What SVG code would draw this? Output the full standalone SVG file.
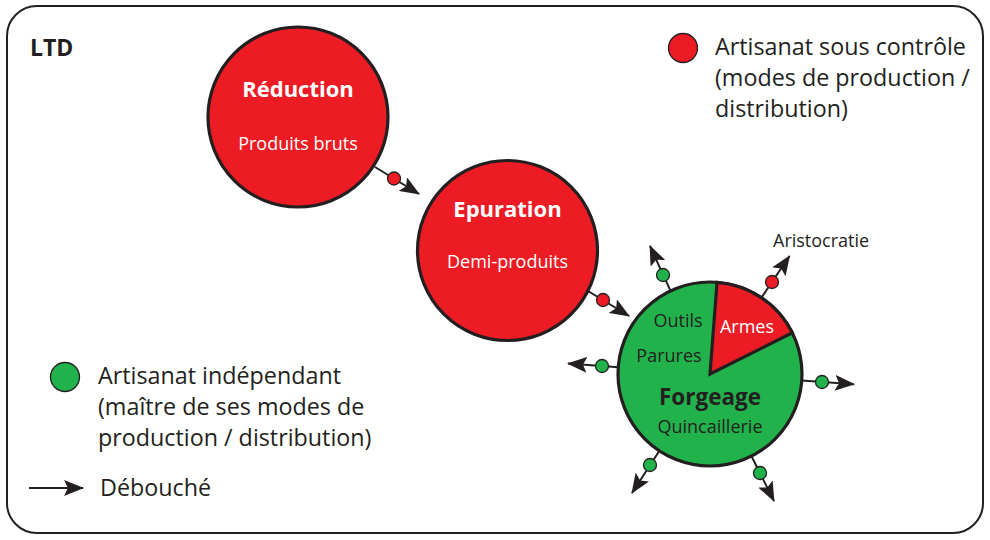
<svg xmlns="http://www.w3.org/2000/svg" width="990" height="540" viewBox="0 0 990 540">
<defs>
<style>
.t{font-family:"Open Sans","Noto Sans","Liberation Sans",sans-serif;fill:#231f20}
.w{fill:#fff}
.b{font-weight:bold}
.big{font-size:22px}
.sm{font-size:18px}
.leg{font-size:23.3px}
.red{fill:#ed1c24}
.grn{fill:#22b24c}
.node{stroke:#231f20;stroke-width:3.2}
.dot{stroke:#231f20;stroke-width:1.3}
.ln{stroke:#231f20;stroke-width:2;fill:none;marker-end:url(#ah)}
</style>
<marker id="ah" viewBox="0 0 20 16" refX="19" refY="8" markerWidth="20" markerHeight="16" markerUnits="userSpaceOnUse" orient="auto">
<path d="M0,0 L20,8 L0,16 L4,8 Z" fill="#231f20"/>
</marker>
</defs>
<rect x="7" y="6" width="976" height="527" rx="30" ry="30" fill="#fff" stroke="#231f20" stroke-width="2"/>
<text class="t b" x="30" y="56" font-size="23">LTD</text>

<g id="connectors">
<line class="ln" x1="375" y1="167" x2="419" y2="194"/>
<line class="ln" x1="588" y1="291" x2="629" y2="316"/>
<line class="ln" x1="670.5" y1="290.9" x2="650" y2="246"/>
<line class="ln" x1="761.4" y1="297.7" x2="789.5" y2="256"/>
<line class="ln" x1="618.3" y1="367.2" x2="568" y2="363.5"/>
<line class="ln" x1="801.7" y1="380.5" x2="854" y2="384.2"/>
<line class="ln" x1="659.4" y1="450.8" x2="632" y2="493"/>
<line class="ln" x1="751.5" y1="456.2" x2="774" y2="501"/>
<circle class="red dot" cx="394" cy="178.5" r="6.5"/>
<circle class="red dot" cx="603" cy="300" r="6.5"/>
<circle class="grn dot" cx="663" cy="275" r="6.5"/>
<circle class="red dot" cx="772" cy="282" r="6.5"/>
<circle class="grn dot" cx="602" cy="366" r="6.5"/>
<circle class="grn dot" cx="822" cy="382" r="6.5"/>
<circle class="grn dot" cx="650" cy="465" r="6.5"/>
<circle class="grn dot" cx="760" cy="473" r="6.5"/>
</g>

<g id="reduction">
<circle class="red node" cx="298" cy="117" r="90"/>
<text class="t w b big" x="298" y="97" text-anchor="middle">Réduction</text>
<text class="t w sm" x="298" y="150" text-anchor="middle">Produits bruts</text>
</g>

<g id="epuration">
<circle class="red node" cx="507.5" cy="250.5" r="90"/>
<text class="t w b big" x="507.5" y="217" text-anchor="middle">Epuration</text>
<text class="t w sm" x="507.5" y="268" text-anchor="middle">Demi-produits</text>
</g>

<g id="forgeage">
<circle class="grn node" cx="710" cy="374" r="92"/>
<path class="red node" d="M710,374 L717.06,282.3 A92,92 0 0,1 792.3,332.8 Z" stroke-linejoin="miter"/>
<text class="t sm" x="678" y="327" text-anchor="middle">Outils</text>
<text class="t sm" x="669" y="362" text-anchor="middle">Parures</text>
<text class="t w sm" x="747" y="333" text-anchor="middle">Armes</text>
<text class="t b" x="710" y="405" text-anchor="middle" font-size="22.5">Forgeage</text>
<text class="t sm" x="710" y="433" text-anchor="middle">Quincaillerie</text>
</g>

<g id="aristocratie">
<text class="t" x="773" y="247" font-size="18">Aristocratie</text>
</g>

<g id="legend-red">
<circle class="red dot" cx="683" cy="48" r="14.5"/>
<text class="t leg" x="715" y="55">Artisanat sous contrôle</text>
<text class="t leg" x="715" y="86">(modes de production /</text>
<text class="t leg" x="715" y="117">distribution)</text>
</g>

<g id="legend-green">
<circle class="grn dot" cx="65" cy="377" r="14.5"/>
<text class="t leg" x="98" y="384">Artisanat indépendant</text>
<text class="t leg" x="98" y="415">(maître de ses modes de</text>
<text class="t leg" x="98" y="446">production / distribution)</text>
</g>

<g id="legend-arrow">
<line x1="29" y1="488" x2="83" y2="488" stroke="#231f20" stroke-width="2" marker-end="url(#ah)"/>
<text class="t leg" x="100" y="496">Débouché</text>
</g>
</svg>
